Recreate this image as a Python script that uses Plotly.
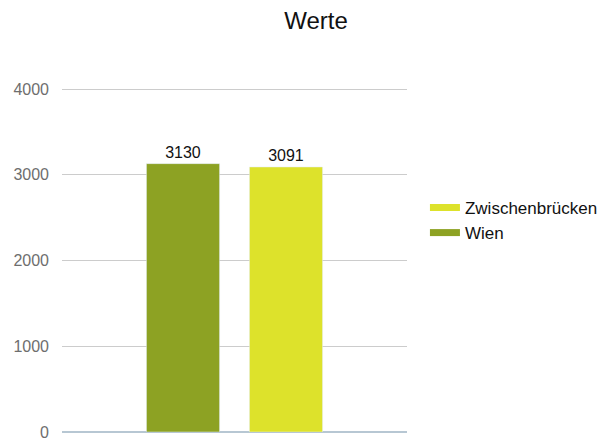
import plotly.graph_objects as go

category = ['']
series_names = ['Wien', 'Zwischenbrücken']
values = [3130, 3091]
colors = ['#8da223', '#dde22b']
y_ticks = [0, 1000, 2000, 3000, 4000]

fig = go.Figure()

for name, val, col in zip(series_names, values, colors):
    fig.add_trace(go.Bar(x=category, y=[val], name=name, marker_color=col,
                         text=[str(val)], textposition='outside',
                         textfont=dict(color='#111', size=16),
                         cliponaxis=False, showlegend=False))

# line-style legend swatches
for name, col in zip(series_names, colors):
    fig.add_trace(go.Scatter(x=[None], y=[None], mode='lines', name=name,
                             line=dict(color=col, width=7)))

# page body has an 8px margin, so the figure is 8px smaller than the window
fig.update_layout(
    width=606, height=433,
    margin=dict(l=54, r=207, t=80, b=9, autoexpand=False),
    paper_bgcolor='white', plot_bgcolor='white',
    font=dict(family='Liberation Sans, Arial, sans-serif'),
    title=dict(text='Werte', x=308/606, xanchor='center', y=0.972, yanchor='middle',
               font=dict(size=24, color='#111')),
    barmode='group', bargap=0.403, bargroupgap=0.29,
    showlegend=True,
    legend=dict(x=1.052, xanchor='left', y=0.615, yanchor='middle',
                traceorder='reversed', font=dict(size=17, color='#111'),
                itemwidth=30, tracegroupgap=0),
)
fig.update_xaxes(showticklabels=False, showgrid=False, zeroline=False,
                 showline=False)
fig.update_yaxes(range=[0, 4012], tickvals=y_ticks, showgrid=True,
                 gridcolor='#cccccc', zeroline=True, zerolinecolor='#b7c7d3',
                 zerolinewidth=1.5, tickfont=dict(size=16, color='#6e6e6e'),
                 ticklabelstandoff=12)

fig.write_html("out.html")
